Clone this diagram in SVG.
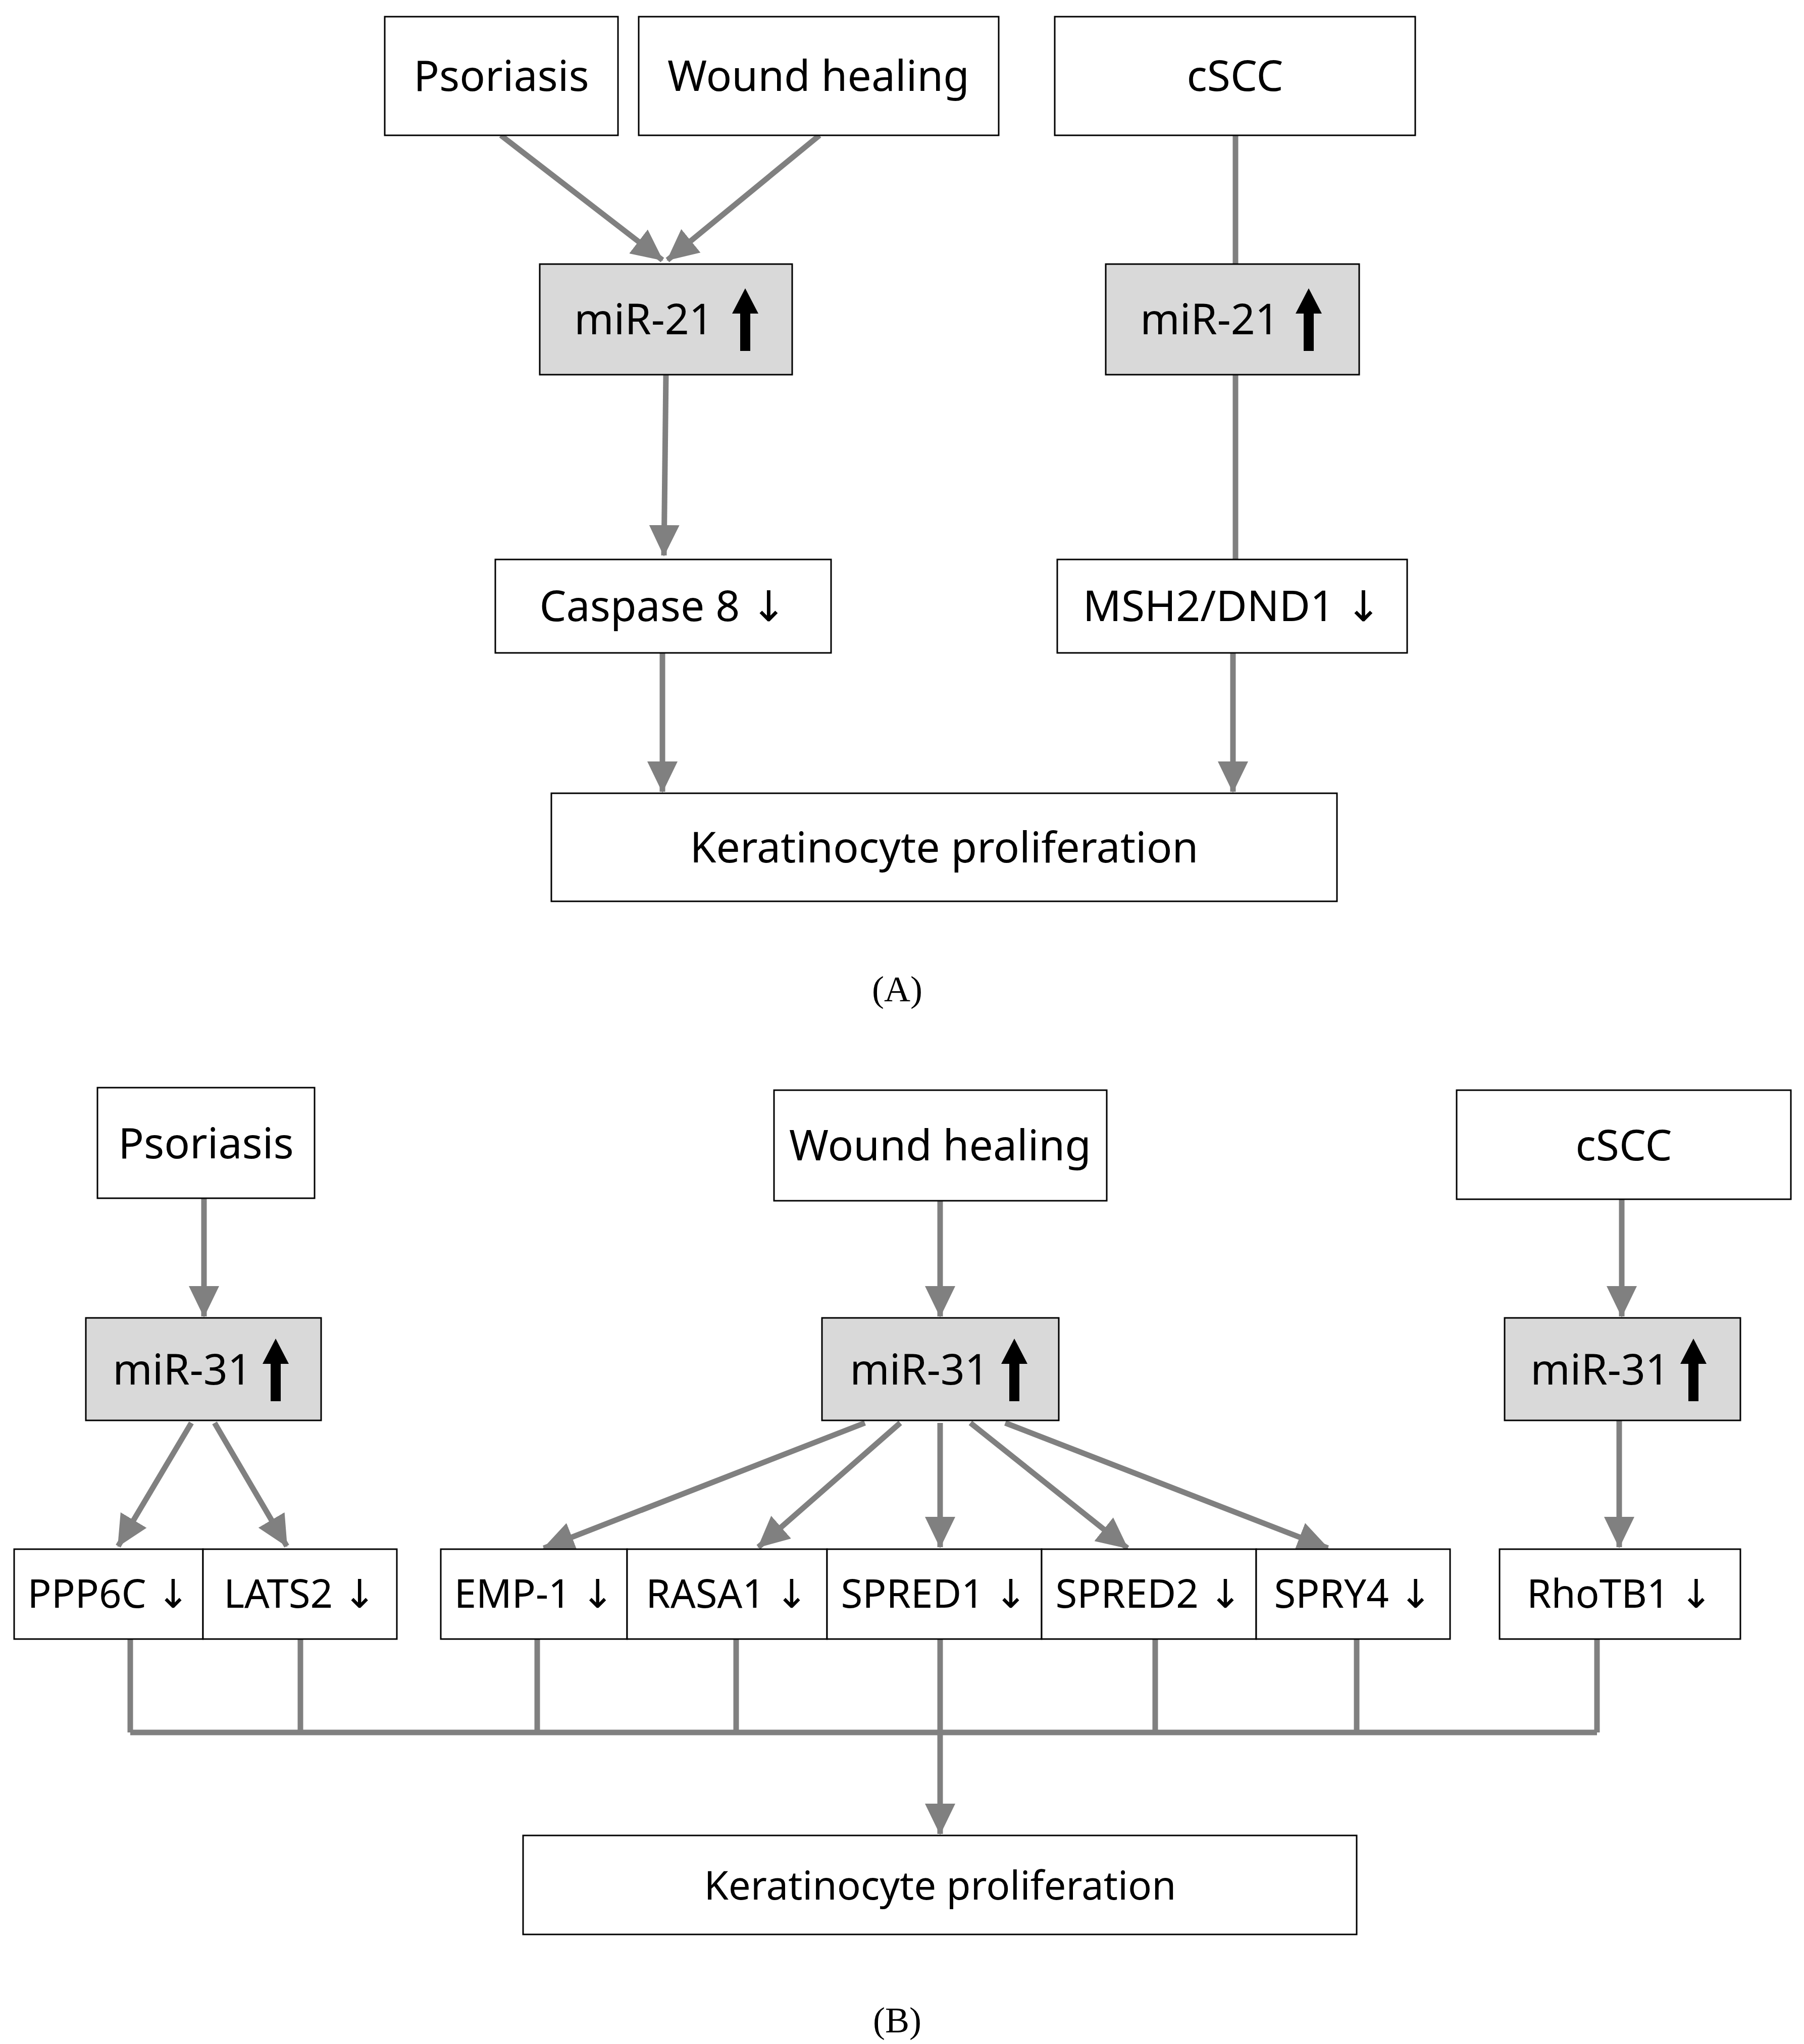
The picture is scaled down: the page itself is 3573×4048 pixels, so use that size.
<svg xmlns="http://www.w3.org/2000/svg" width="3573" height="4048" viewBox="0 0 3573 4048">
<style>
.b{fill:#fff;stroke:#000;stroke-width:3}
.g{fill:#d9d9d9;stroke:#000;stroke-width:3}
.t{font-family:"Noto Sans","DejaVu Sans",sans-serif;font-size:84px;text-anchor:middle;fill:#000}
.s{font-size:78px}
.c{stroke:#808080;stroke-width:11;fill:none}
.a{marker-end:url(#ah)}
.lab{font-family:"Liberation Serif",serif;font-size:72px;text-anchor:middle}
</style>
<defs>
<marker id="ah" markerUnits="userSpaceOnUse" markerWidth="64" markerHeight="64" viewBox="0 0 64 64" refX="60" refY="32" orient="auto">
<path d="M0,2 L62,32 L0,62 Z" fill="#808080"/>
</marker>
<polygon id="up" points="0,-62 -26,-12 -10,-12 -10,62 10,62 10,-12 26,-12" fill="#000"/>
</defs>
<g id="connectors">
<line class="c a" x1="992" y1="268" x2="1312" y2="515"/>
<line class="c a" x1="1623" y1="268" x2="1322" y2="515"/>
<line class="c" x1="2447" y1="268" x2="2447" y2="523"/>
<line class="c a" x1="1319" y1="742" x2="1315" y2="1100"/>
<line class="c" x1="2447" y1="742" x2="2447" y2="1108"/>
<line class="c a" x1="1312" y1="1293" x2="1312" y2="1568"/>
<line class="c a" x1="2442" y1="1293" x2="2442" y2="1568"/>
<line class="c a" x1="404" y1="2373" x2="404" y2="2607"/>
<line class="c a" x1="1862" y1="2378" x2="1862" y2="2607"/>
<line class="c a" x1="3212" y1="2375" x2="3212" y2="2607"/>
<line class="c a" x1="379" y1="2818" x2="234" y2="3062"/>
<line class="c a" x1="425" y1="2818" x2="568" y2="3062"/>
<line class="c a" x1="1713" y1="2818" x2="1077" y2="3066"/>
<line class="c a" x1="1783" y1="2818" x2="1502" y2="3064"/>
<line class="c a" x1="1862" y1="2818" x2="1862" y2="3064"/>
<line class="c a" x1="1922" y1="2818" x2="2233" y2="3066"/>
<line class="c a" x1="1991" y1="2818" x2="2630" y2="3066"/>
<line class="c a" x1="3207" y1="2813" x2="3207" y2="3064"/>
<path class="c" d="M258,3246V3431M595,3246V3431M1064,3246V3431M1458,3246V3431M2288,3246V3431M2687,3246V3431M3163,3246V3431M258,3431H3163"/>
<line class="c a" x1="1862" y1="3246" x2="1862" y2="3632"/>
</g>
<g id="psoriasisA"><rect class="b" x="762" y="33" width="462" height="235"/><text class="t" x="993" y="180">Psoriasis</text></g>
<g id="woundA"><rect class="b" x="1265" y="33" width="713" height="235"/><text class="t" x="1621" y="180">Wound healing</text></g>
<g id="csccA"><rect class="b" x="2089" y="33" width="714" height="235"/><text class="t" x="2446" y="180">cSCC</text></g>
<g id="mir21L"><rect class="g" x="1069" y="523" width="500" height="219"/><text class="t" x="1275" y="662">miR-21</text><use href="#up" x="1476" y="633"/></g>
<g id="mir21R"><rect class="g" x="2190" y="523" width="502" height="219"/><text class="t" x="2396" y="662">miR-21</text><use href="#up" x="2592" y="633"/></g>
<g id="casp8"><rect class="b" x="981" y="1108" width="665" height="185"/><text class="t" x="1313" y="1230">Caspase 8 ↓</text></g>
<g id="msh2"><rect class="b" x="2094" y="1108" width="693" height="185"/><text class="t" x="2440" y="1230">MSH2/DND1 ↓</text></g>
<g id="keratA"><rect class="b" x="1092" y="1571" width="1556" height="214"/><text class="t" x="1870" y="1708">Keratinocyte proliferation</text></g>
<text class="lab" x="1777" y="1983">(A)</text>
<g id="psoriasisB"><rect class="b" x="193" y="2154" width="430" height="219"/><text class="t" x="408" y="2294">Psoriasis</text></g>
<g id="woundB"><rect class="b" x="1533" y="2159" width="659" height="219"/><text class="t" x="1862" y="2298">Wound healing</text></g>
<g id="csccB"><rect class="b" x="2885" y="2159" width="662" height="216"/><text class="t" x="3216" y="2298">cSCC</text></g>
<g id="mir31L"><rect class="g" x="170" y="2610" width="466" height="203"/><text class="t" x="361" y="2742">miR-31</text><use href="#up" x="546" y="2713"/></g>
<g id="mir31M"><rect class="g" x="1628" y="2610" width="469" height="203"/><text class="t" x="1821" y="2742">miR-31</text><use href="#up" x="2009" y="2713"/></g>
<g id="mir31R"><rect class="g" x="2980" y="2610" width="467" height="203"/><text class="t" x="3169" y="2742">miR-31</text><use href="#up" x="3354" y="2713"/></g>
<g id="ppp6c"><rect class="b" x="28" y="3068" width="374" height="178"/><text class="t s" x="215" y="3184">PPP6C ↓</text></g>
<g id="lats2"><rect class="b" x="402" y="3068" width="384" height="178"/><text class="t s" x="594" y="3184">LATS2 ↓</text></g>
<g id="emp1"><rect class="b" x="873" y="3068" width="369" height="178"/><text class="t s" x="1058" y="3184">EMP-1 ↓</text></g>
<g id="rasa1"><rect class="b" x="1242" y="3068" width="396" height="178"/><text class="t s" x="1440" y="3184">RASA1 ↓</text></g>
<g id="spred1"><rect class="b" x="1638" y="3068" width="425" height="178"/><text class="t s" x="1850" y="3184">SPRED1 ↓</text></g>
<g id="spred2"><rect class="b" x="2063" y="3068" width="425" height="178"/><text class="t s" x="2275" y="3184">SPRED2 ↓</text></g>
<g id="spry4"><rect class="b" x="2488" y="3068" width="384" height="178"/><text class="t s" x="2680" y="3184">SPRY4 ↓</text></g>
<g id="rhotb1"><rect class="b" x="2970" y="3068" width="477" height="178"/><text class="t s" x="3208" y="3184">RhoTB1 ↓</text></g>
<g id="keratB"><rect class="b" x="1036" y="3635" width="1651" height="196"/><text class="t s" x="1862" y="3762">Keratinocyte proliferation</text></g>
<text class="lab" x="1777" y="4025">(B)</text>
</svg>
